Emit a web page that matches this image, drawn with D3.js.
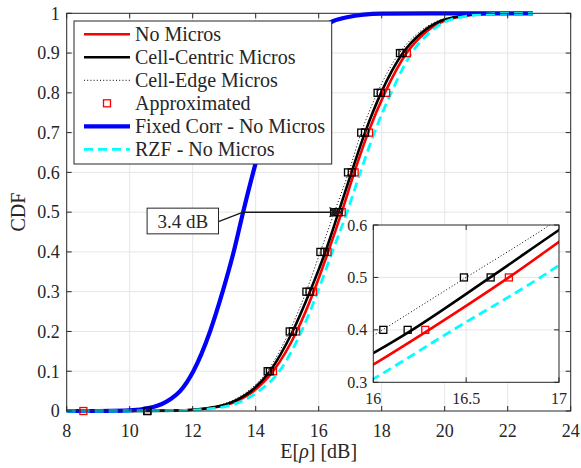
<!DOCTYPE html>
<html>
<head>
<meta charset="utf-8">
<script src="https://cdn.jsdelivr.net/npm/d3@7"></script>
<style>
  body { margin: 0; background: #fff; }
  text { font-family: "Liberation Serif", serif; fill: #262626; }
</style>
</head>
<body>
<div class="chart"></div>
<script>
// CDF levels shared by all curves
var cdfLevels = [0, 0, 0.001, 0.01, 0.03, 0.05, 0.1, 0.2, 0.3, 0.4, 0.5, 0.6, 0.7, 0.8, 0.9, 0.95, 0.98, 0.99, 0.999, 1, 1];

// E[rho] in dB at each CDF level
var noMicros     = [8, 10, 11.45, 12.78, 13.53, 13.93, 14.55, 15.30, 15.84, 16.30, 16.73, 17.13, 17.57, 18.10, 18.79, 19.36, 19.95, 20.40, 21.45, 22.0, 22.8];
var cellCentric  = [8, 10, 11.40, 12.70, 13.45, 13.85, 14.45, 15.17, 15.72, 16.21, 16.63, 17.04, 17.47, 17.98, 18.67, 19.25, 19.85, 20.30, 21.35, 21.9, 22.8];
var cellEdge     = [8, 10, 11.30, 12.60, 13.35, 13.75, 14.37, 15.07, 15.60, 16.05, 16.50, 16.95, 17.35, 17.86, 18.56, 19.15, 19.75, 20.20, 21.25, 21.8, 22.8];
var fixedCorr    = [8, 9, 9.85, 10.75, 11.30, 11.60, 12.02, 12.55, 12.95, 13.30, 13.60, 13.92, 14.27, 14.70, 15.30, 15.85, 16.45, 16.90, 18.00, 19.5, 22.8];
var rzfNoMicros  = [8, 10, 11.60, 12.95, 13.70, 14.10, 14.75, 15.45, 15.97, 16.43, 16.90, 17.32, 17.77, 18.30, 18.95, 19.50, 20.05, 20.50, 21.55, 22.1, 22.8];

// approximated points
var approxLevels   = [0, 0.1, 0.2, 0.3, 0.4, 0.5, 0.6, 0.7, 0.8, 0.9];
var approxNoMicros = [8.53, 14.55, 15.28, 15.82, 16.28, 16.73, 17.14, 17.6, 18.14, 18.8];
var approxCentric  = [10.56, 14.45, 15.18, 15.71, 16.185, 16.632, 17.05, 17.47, 17.97, 18.66];
var approxEdge     = [10.56, 14.38, 15.08, 15.61, 16.054, 16.488, 16.93, 17.35, 17.87, 18.58];

var xTicks = [8, 10, 12, 14, 16, 18, 20, 22, 24];
var yTicks = [0, 0.1, 0.2, 0.3, 0.4, 0.5, 0.6, 0.7, 0.8, 0.9, 1];
var insetXTicks = [16, 16.5, 17];
var insetYTicks = [0.3, 0.4, 0.5, 0.6];

var legendLabels = ["No Micros", "Cell-Centric Micros", "Cell-Edge Micros", "Approximated", "Fixed Corr - No Micros", "RZF - No Micros"];
var gapLabel = "3.4 dB";

var svgWidth = 581;
var svgHeight = 468;
var margin = { top: 13.3, right: 10.3, bottom: 57, left: 66.7 };
var width = svgWidth - margin.left - margin.right;
var height = svgHeight - margin.top - margin.bottom;

var axisColor = "#262626";
var gridColor = "#e6e6e6";

var series = [
    { name: "No Micros", xs: noMicros, color: "#ff0000", w: 2.6, dash: null },
    { name: "Cell-Centric Micros", xs: cellCentric, color: "#000000", w: 2.6, dash: null },
    { name: "Cell-Edge Micros", xs: cellEdge, color: "#000000", w: 1, dash: "1,2.2" },
    { name: "Fixed Corr - No Micros", xs: fixedCorr, color: "#0000ff", w: 4.2, dash: null },
    { name: "RZF - No Micros", xs: rzfNoMicros, color: "#00ffff", w: 2.8, dash: "9,5" }
];

var approxSets = [
    { xs: approxNoMicros, color: "#ff0000" },
    { xs: approxEdge, color: "#000000" },
    { xs: approxCentric, color: "#000000" }
];

var svg = d3.select(".chart").append("svg")
    .attr("width", svgWidth).attr("height", svgHeight);

var chartGroup = svg.append("g").attr("transform", `translate(${margin.left},${margin.top})`);

var xScale = d3.scaleLinear().domain([8, 24]).range([0, width]);
var yScale = d3.scaleLinear().domain([0, 1]).range([height, 0]);

function pointsOf(xs) {
    return xs.map((x, i) => [x, cdfLevels[i]]);
}

function drawGrid(g, xs, ys, xt, yt) {
    var w = xs.range()[1], h = ys.range()[0];
    g.append("g").selectAll("line").data(xt.filter(t => t != xs.domain()[0] && t != xs.domain()[1]))
        .enter().append("line")
        .attr("x1", d => xs(d)).attr("x2", d => xs(d)).attr("y1", 0).attr("y2", h)
        .attr("stroke", gridColor).attr("stroke-width", 1);
    g.append("g").selectAll("line").data(yt.filter(t => t != ys.domain()[0] && t != ys.domain()[1]))
        .enter().append("line")
        .attr("y1", d => ys(d)).attr("y2", d => ys(d)).attr("x1", 0).attr("x2", w)
        .attr("stroke", gridColor).attr("stroke-width", 1);
}

function drawFrame(g, xs, ys, xt, yt, fontSize, xLabelDy, yLabelDx) {
    var w = xs.range()[1], h = ys.range()[0];
    var tl = 5;
    var frame = g.append("g").attr("stroke", axisColor).attr("stroke-width", 1);
    frame.append("rect").attr("x", 0).attr("y", 0).attr("width", w).attr("height", h).attr("fill", "none");
    xt.forEach(t => {
        frame.append("line").attr("x1", xs(t)).attr("x2", xs(t)).attr("y1", h).attr("y2", h - tl);
        frame.append("line").attr("x1", xs(t)).attr("x2", xs(t)).attr("y1", 0).attr("y2", tl);
    });
    yt.forEach(t => {
        frame.append("line").attr("y1", ys(t)).attr("y2", ys(t)).attr("x1", 0).attr("x2", tl);
        frame.append("line").attr("y1", ys(t)).attr("y2", ys(t)).attr("x1", w).attr("x2", w - tl);
    });
    g.append("g").selectAll("text").data(xt).enter().append("text")
        .attr("x", d => xs(d)).attr("y", h + xLabelDy)
        .attr("text-anchor", "middle").attr("font-size", fontSize)
        .text(d => d);
    g.append("g").selectAll("text").data(yt).enter().append("text")
        .attr("x", -yLabelDx).attr("y", d => ys(d)).attr("dy", "0.35em")
        .attr("text-anchor", "end").attr("font-size", fontSize)
        .text(d => d);
}

var line = d3.line()
    .x(d => xScale(d[0])).y(d => yScale(d[1]))
    .curve(d3.curveMonotoneX);

drawGrid(chartGroup, xScale, yScale, xTicks, yTicks);

chartGroup.append("defs").append("clipPath").attr("id", "mainClip")
    .append("rect").attr("x", -3).attr("y", -3).attr("width", width + 6).attr("height", height + 6);

var curves = chartGroup.append("g").attr("clip-path", "url(#mainClip)");
series.forEach(s => {
    curves.append("path").datum(pointsOf(s.xs))
        .attr("d", line).attr("fill", "none")
        .attr("stroke", s.color).attr("stroke-width", s.w)
        .attr("stroke-dasharray", s.dash);
});

function drawSquares(g, xs, ys, clip) {
    approxSets.forEach(a => {
        g.append("g").selectAll("rect")
            .data(a.xs.map((x, i) => [x, approxLevels[i]]).filter(clip))
            .enter().append("rect")
            .attr("x", d => xs(d[0]) - 3.5).attr("y", d => ys(d[1]) - 3.5)
            .attr("width", 7).attr("height", 7)
            .attr("fill", "none").attr("stroke", a.color).attr("stroke-width", 1.3);
    });
}
drawSquares(chartGroup, xScale, yScale, d => true);

// 3.4 dB annotation between the medians
var xFrom = xScale(fixedCorr[cdfLevels.indexOf(0.5)]);
var xTo = xScale(noMicros[cdfLevels.indexOf(0.5)]);
var yMid = yScale(0.5);
chartGroup.append("line")
    .attr("x1", xFrom).attr("y1", yMid).attr("x2", xTo - 8).attr("y2", yMid)
    .attr("stroke", "#1a1a1a").attr("stroke-width", 1.5);
chartGroup.append("path")
    .attr("d", `M${xTo},${yMid} L${xTo - 12},${yMid - 4.5} L${xTo - 9},${yMid} L${xTo - 12},${yMid + 4.5} Z`)
    .attr("fill", "#1a1a1a").attr("stroke", "#1a1a1a").attr("stroke-width", 1);
var boxX = xFrom - 96, boxY = yMid - 4, boxW = 71.4, boxH = 25.7;
chartGroup.append("line")
    .attr("x1", boxX + boxW).attr("y1", boxY + 13.5).attr("x2", xFrom).attr("y2", yMid)
    .attr("stroke", "#1a1a1a").attr("stroke-width", 1.3);
chartGroup.append("rect")
    .attr("x", boxX).attr("y", boxY).attr("width", boxW).attr("height", boxH)
    .attr("fill", "#fff").attr("stroke", axisColor).attr("stroke-width", 1);
chartGroup.append("text")
    .attr("x", boxX + boxW / 2).attr("y", boxY + boxH / 2).attr("dy", "0.35em")
    .attr("text-anchor", "middle").attr("font-size", 19)
    .text(gapLabel);

// legend
var legend = chartGroup.append("g").attr("transform", `translate(${74 - margin.left},${21 - margin.top})`);
legend.append("rect").attr("width", 257.7).attr("height", 143)
    .attr("fill", "#fff").attr("stroke", axisColor).attr("stroke-width", 1);
var legendStyles = [series[0], series[1], series[2], null, series[3], series[4]];
legendLabels.forEach((lab, i) => {
    var ly = 13.3 + i * 23;
    var s = legendStyles[i];
    if (s) {
        legend.append("line").attr("x1", 10).attr("x2", 56).attr("y1", ly).attr("y2", ly)
            .attr("stroke", s.color).attr("stroke-width", s.w).attr("stroke-dasharray", s.dash);
    } else {
        legend.append("rect").attr("x", 29.5).attr("y", ly - 3.5).attr("width", 7).attr("height", 7)
            .attr("fill", "none").attr("stroke", "#ff0000").attr("stroke-width", 1.3);
    }
    legend.append("text").attr("x", 61).attr("y", ly).attr("dy", "0.35em")
        .attr("font-size", 20).text(lab);
});

drawFrame(chartGroup, xScale, yScale, xTicks, yTicks, 18, 26, 7);

// axis titles
var xTitle = chartGroup.append("text")
    .attr("x", width / 2).attr("y", height + 47)
    .attr("text-anchor", "middle").attr("font-size", 20);
xTitle.append("tspan").text("E[");
xTitle.append("tspan").attr("font-style", "italic").text("ρ");
xTitle.append("tspan").text("] [dB]");

chartGroup.append("text")
    .attr("transform", "rotate(-90)")
    .attr("x", -height / 2).attr("y", -42)
    .attr("text-anchor", "middle").attr("font-size", 20)
    .text("CDF");

// zoomed inset
var inset = svg.append("g").attr("transform", "translate(373.3,225)");
var ixScale = d3.scaleLinear().domain([16, 17]).range([0, 185.7]);
var iyScale = d3.scaleLinear().domain([0.3, 0.6]).range([157.3, 0]);
inset.append("rect").attr("width", 185.7).attr("height", 157.3).attr("fill", "#fff");
drawGrid(inset, ixScale, iyScale, insetXTicks, insetYTicks);
inset.append("defs").append("clipPath").attr("id", "insetClip")
    .append("rect").attr("width", 185.7).attr("height", 157.3);
var iline = d3.line()
    .x(d => ixScale(d[0])).y(d => iyScale(d[1]))
    .curve(d3.curveMonotoneX);
var icurves = inset.append("g").attr("clip-path", "url(#insetClip)");
series.forEach(s => {
    icurves.append("path").datum(pointsOf(s.xs))
        .attr("d", iline).attr("fill", "none")
        .attr("stroke", s.color).attr("stroke-width", s.w)
        .attr("stroke-dasharray", s.dash);
});
drawSquares(inset, ixScale, iyScale, d => d[0] > 16 && d[0] < 17 && d[1] > 0.3 && d[1] < 0.6);
drawFrame(inset, ixScale, iyScale, insetXTicks, insetYTicks, 16, 22, 6);
</script>
</body>
</html>
